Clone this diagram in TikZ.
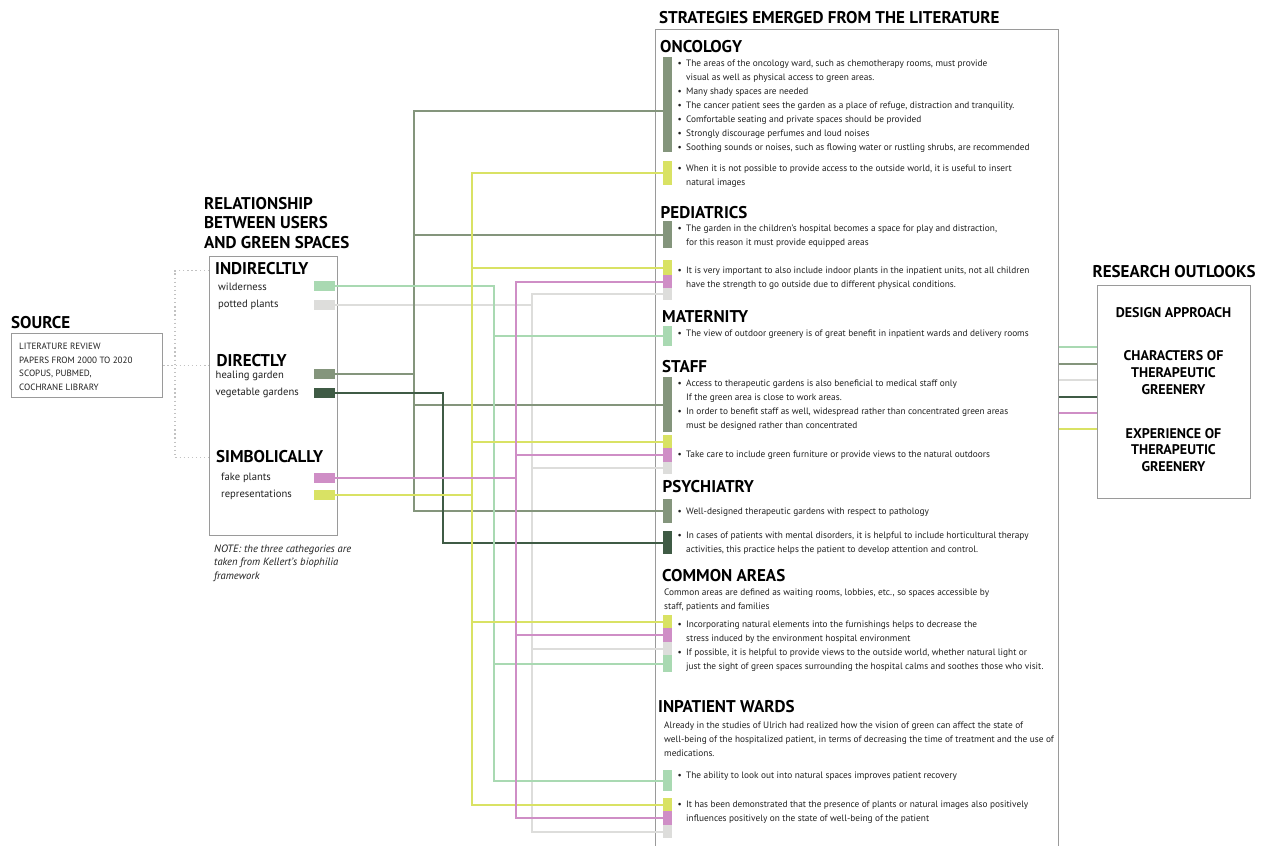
\documentclass[tikz,border=0pt]{standalone}
\usepackage{fontspec}
\setmainfont{PT Sans}
\usetikzlibrary{positioning}
\definecolor{healC}{HTML}{84957C}
\definecolor{vegC}{HTML}{3F5B45}
\definecolor{wildC}{HTML}{A9D9B2}
\definecolor{pottC}{HTML}{DDDDDB}
\definecolor{fakeC}{HTML}{CF8EC6}
\definecolor{reprC}{HTML}{D9E264}
\definecolor{frameC}{HTML}{9A9A9A}
\newcommand\bul{\llap{\textbullet\hspace{4.5pt}}}
\begin{document}
\begin{tikzpicture}[x=1pt,y=-1pt,every node/.style={inner sep=0,text=black!88},
  head/.style={font=\bfseries\fontsize{17}{19.3}\selectfont,anchor=base west,align=left,text=black},
  sub/.style={font=\bfseries\fontsize{14}{16.7}\selectfont,align=center,text=black},
  txt/.style={font=\fontsize{9.3}{14}\selectfont,anchor=base west,align=left},
  lbl/.style={font=\fontsize{10.6}{14}\selectfont,anchor=base west},
  src/.style={font=\fontsize{9.1}{13.7}\selectfont,anchor=base west,align=left},
  frame/.style={draw=frameC,line width=1.2pt,anchor=north west},
  bar/.style={fill=#1,minimum width=8.5,anchor=north west},
  swatch/.style={fill=#1,minimum width=21,minimum height=10,anchor=north west},
  conn/.style={draw=#1,line width=2.3pt},
  link/.style={draw=#1,line width=2pt},
  dots/.style={draw=frameC!60,line width=1.3pt,dash pattern=on 1.3pt off 2.8pt}]
\useasboundingbox (0,0) rectangle (1267,846);
\clip (0,0) rectangle (1267,846);
% left side: source and user relationship
\node[frame,minimum width=151,minimum height=64] (srcbox) at (11,333) {};
\node[head] (srcT) at (11,328) {SOURCE};
\node[src] (srcL) at (19,390.5) {LITERATURE REVIEW\\PAPERS FROM 2000 TO 2020\\SCOPUS, PUBMED,\\COCHRANE LIBRARY};
\node[frame,minimum width=128,minimum height=279] (rel) at (209,256) {};
\node[head] (relT) at (204,248) {RELATIONSHIP\\BETWEEN USERS\\AND GREEN SPACES};
\node[head] (indir) at (215,274) {INDIRECLTLY};
\node[head] (direct) at (216.5,366) {DIRECTLY};
\node[head] (simb) at (216,462.5) {SIMBOLICALLY};
\node[lbl] (wildL) at (218,290.5) {wilderness};
\node[lbl] (pottL) at (218,307.5) {potted plants};
\node[lbl] (healL) at (215.5,378) {healing garden};
\node[lbl] (vegL) at (215.5,395) {vegetable gardens};
\node[lbl] (fakeL) at (221,480.5) {fake plants};
\node[lbl] (reprL) at (221,497.5) {representations};
\node[swatch=wildC] (wild) at (314,281) {};
\node[swatch=pottC] (pott) at (314,300) {};
\node[swatch=healC] (heal) at (314,369) {};
\node[swatch=vegC] (veg) at (314,388) {};
\node[swatch=fakeC] (fake) at (314,473) {};
\node[swatch=reprC] (repr) at (314,490) {};
\node[src,font=\itshape\fontsize{10.6}{13.7}\selectfont] (note) at (214,579.5) {NOTE: the three cathegories are\\taken from Kellert's biophilia\\framework};
\coordinate (fork) at (175,365);
\draw[dots] (srcbox.east) -- (rel.west |- srcbox.east);
\draw[dots] ([yshift=-2.5pt]rel.west |- indir.west) -| (fork) |- ([yshift=-1pt]rel.west |- simb.west);
% strategies
\node[frame,minimum width=403,minimum height=840] (strat) at (655,29) {};
\node[head] (stratT) at (659,23) {STRATEGIES EMERGED FROM THE LITERATURE};
\node[head] (oncT) at (660,52) {ONCOLOGY};
\node[txt] (onc1L) at (686,150) {\bul The areas of the oncology ward, such as chemotherapy rooms, must provide\\visual as well as physical access to green areas.\\\bul Many shady spaces are needed\\\bul The cancer patient sees the garden as a place of refuge, distraction and tranquility.\\\bul Comfortable seating and private spaces should be provided\\\bul Strongly discourage perfumes and loud noises\\\bul Soothing sounds or noises, such as flowing water or rustling shrubs, are recommended};
\node[txt] (onc2L) at (686,185) {\bul When it is not possible to provide access to the outside world, it is useful to insert\\natural images};
\node[head] (pedT) at (660.5,218.5) {PEDIATRICS};
\node[txt] (ped1L) at (686,245.5) {\bul The garden in the children's hospital becomes a space for play and distraction,\\for this reason it must provide equipped areas};
\node[txt] (ped2L) at (686,287.5) {\bul It is very important to also include indoor plants in the inpatient units, not all children\\have the strength to go outside due to different physical conditions.};
\node[head] (matT) at (662,322) {MATERNITY};
\node[txt] (matL) at (686,336.5) {\bul The view of outdoor greenery is of great benefit in inpatient wards and delivery rooms};
\node[head] (staffT) at (662,372.5) {STAFF};
\node[txt] (staff1L) at (686,428.5) {\bul Access to therapeutic gardens is also beneficial to medical staff only\\If the green area is close to work areas.\\\bul In order to benefit staff as well, widespread rather than concentrated green areas\\must be designed rather than concentrated};
\node[txt] (staff2L) at (686,457) {\bul Take care to include green furniture or provide views to the natural outdoors};
\node[head] (psyT) at (662.5,492) {PSYCHIATRY};
\node[txt] (psy1L) at (686,514) {\bul Well-designed therapeutic gardens with respect to pathology};
\node[txt] (psy2L) at (686,552) {\bul In cases of patients with mental disorders, it is helpful to include horticultural therapy\\activities, this practice helps the patient to develop attention and control.};
\node[head] (comT) at (662,581.5) {COMMON AREAS};
\node[txt] (comL) at (664,609.5) {Common areas are defined as waiting rooms, lobbies, etc., so spaces accessible by\\staff, patients and families};
\node[txt] (com1L) at (686,669.5) {\bul Incorporating natural elements into the furnishings helps to decrease the\\stress induced by the environment hospital environment\\\bul If possible, it is helpful to provide views to the outside world, whether natural light or\\just the sight of green spaces surrounding the hospital calms and soothes those who visit.};
\node[head] (inpT) at (658,712) {INPATIENT WARDS};
\node[txt] (inpL) at (664,756) {Already in the studies of Ulrich had realized how the vision of green can affect the state of\\well-being of the hospitalized patient, in terms of decreasing the time of treatment and the use of\\medications.};
\node[txt] (inp1L) at (686,778) {\bul The ability to look out into natural spaces improves patient recovery};
\node[txt] (inp2L) at (686,821.5) {\bul It has been demonstrated that the presence of plants or natural images also positively\\influences positively on the state of well-being of the patient};
% colour bars
\node[bar=healC,minimum height=95] (onc1) at (663,57) {};
\node[bar=reprC,minimum height=24] (onc2) at (663,161) {};
\node[bar=healC,minimum height=27] (ped1) at (663,221) {};
\node[bar=reprC,minimum height=15] (ped2y) at (663,260) {};
\node[bar=fakeC,minimum height=13] (ped2p) at (663,275) {};
\node[bar=pottC,minimum height=12] (ped2g) at (663,288) {};
\node[bar=wildC,minimum height=20] (mat1) at (663,326) {};
\node[bar=healC,minimum height=55] (staff1) at (663,377) {};
\node[bar=reprC,minimum height=13] (staff2y) at (663,435) {};
\node[bar=fakeC,minimum height=14] (staff2p) at (663,448) {};
\node[bar=pottC,minimum height=12] (staff2g) at (663,462) {};
\node[bar=healC,minimum height=24] (psy1) at (663,499) {};
\node[bar=vegC,minimum height=23] (psy2) at (663,531) {};
\node[bar=reprC,minimum height=13] (com1y) at (663,615) {};
\node[bar=fakeC,minimum height=14] (com1p) at (663,628) {};
\node[bar=pottC,minimum height=13] (com1g) at (663,642) {};
\node[bar=wildC,minimum height=17] (com2) at (663,655) {};
\node[bar=wildC,minimum height=21] (inp1) at (663,770) {};
\node[bar=reprC,minimum height=13] (inp2y) at (663,798) {};
\node[bar=fakeC,minimum height=14] (inp2p) at (663,811) {};
\node[bar=pottC,minimum height=13] (inp2g) at (663,825) {};
% research outlooks
\node[frame,minimum width=153,minimum height=213] (outlook) at (1097,285) {};
\node[head,anchor=south,above=7pt of outlook] (outT) {RESEARCH OUTLOOKS};
\node[sub] (design) at (1173.5,312.5) {DESIGN APPROACH};
\node[sub] (chars) at (1173.5,372.5) {CHARACTERS OF\\THERAPEUTIC\\GREENERY};
\node[sub] (exper) at (1173.5,450) {EXPERIENCE OF\\THERAPEUTIC\\GREENERY};
% connectors
\coordinate (busH) at (414,0); \coordinate (busV) at (443,0); \coordinate (busR) at (472,0);
\coordinate (busW) at (494,0); \coordinate (busF) at (516,0); \coordinate (busP) at (532,0);
\coordinate (oncIn) at ([yshift=-6.5pt]onc1.west);
\foreach \t in {ped2g,staff2g,com1g,inp2g} \draw[conn=pottC] (pott.east) -| (busP |- \t.west) -- (\t.west);
\draw[conn=healC] (heal.east) -| (busH |- oncIn) -- (oncIn);
\foreach \t in {ped1,staff1,psy1} \draw[conn=healC] (heal.east) -| (busH |- \t.west) -- (\t.west);
\draw[conn=vegC] (veg.east) -| (busV |- psy2.west) -- (psy2.west);
\foreach \t in {mat1,com2,inp1} \draw[conn=wildC] (wild.east) -| (busW |- \t.west) -- (\t.west);
\foreach \t in {onc2,ped2y,staff2y,com1y,inp2y} \draw[conn=reprC] (repr.east) -| (busR |- \t.west) -- (\t.west);
\foreach \t in {ped2p,staff2p,com1p,inp2p} \draw[conn=fakeC] (fake.east) -| (busF |- \t.west) -- (\t.west);
\foreach \c/\y in {wildC/347,healC/364,pottC/380,vegC/397,fakeC/413,reprC/429}
  \draw[link=\c] (strat.east |- 0,\y) -- (outlook.west |- 0,\y);
\end{tikzpicture}
\end{document}
